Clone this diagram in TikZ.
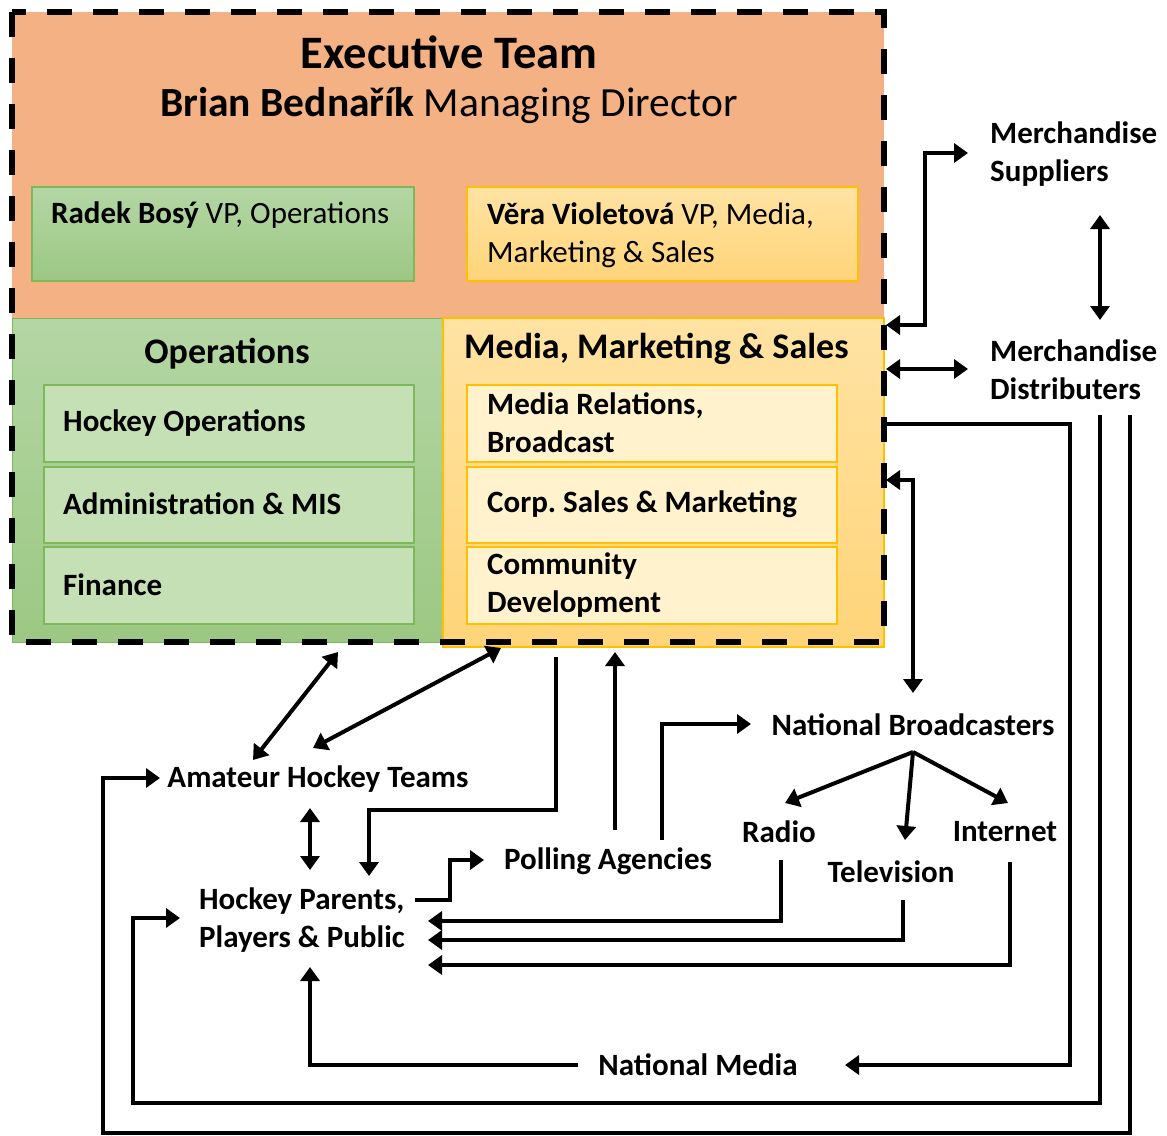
\documentclass[tikz,border=0pt]{standalone}
\usepackage{fontspec}
\setmainfont{Carlito}
\usetikzlibrary{arrows.meta}
\definecolor{orangeF}{HTML}{F4B183}
\definecolor{grnT}{HTML}{B4D6A4}
\definecolor{grnB}{HTML}{9CC883}
\definecolor{grnSub}{HTML}{C5E0B4}
\definecolor{grnLine}{HTML}{7DB85A}
\definecolor{yelT}{HTML}{FFE3A3}
\definecolor{yelB}{HTML}{FFD479}
\definecolor{yelSub}{HTML}{FFF2CC}
\definecolor{yelLine}{HTML}{FFC000}
\newcommand\fExec{\fontsize{46.5}{52}\selectfont}
\newcommand\fDir{\fontsize{41.5}{46}\selectfont}
\newcommand\fHead{\fontsize{36}{40}\selectfont}
\newcommand\fTxt{\fontsize{31}{38}\selectfont}
\frenchspacing
\begin{document}
\begin{tikzpicture}[x=1pt,y=1pt,
  arr/.style={line width=4pt,-{Triangle[length=14pt,width=19pt]}},
  dbl/.style={line width=4pt,{Triangle[length=14pt,width=19pt]}-{Triangle[length=14pt,width=19pt]}},
  lbl/.style={font=\fTxt\bfseries,inner sep=0pt,align=left},
  subtxt/.style={font=\fTxt,inner sep=0pt,align=left,anchor=west}]
\useasboundingbox (0,0) rectangle (1167,-1135);
% executive area
\fill[orangeF] (12,-12) rectangle (884,-318);
\shade[top color=grnT,bottom color=grnB,draw=grnLine,line width=1pt] (12,-318) rectangle (443,-642);
\shade[top color=yelT,bottom color=yelB,draw=yelLine,line width=1.2pt] (443,-318) rectangle (884,-647);
\shade[top color=grnT,bottom color=grnB,draw=grnLine,line width=1.2pt] (32,-187) rectangle (414,-281);
\shade[top color=yelT,bottom color=yelB,draw=yelLine,line width=1.2pt] (467,-187) rectangle (858,-281);
\foreach \a/\b in {385/462,467/543,547/624}{
  \filldraw[fill=grnSub,draw=grnLine,line width=1.2pt] (44,-\a) rectangle (414,-\b);
  \filldraw[fill=yelSub,draw=yelLine,line width=1.2pt] (467,-\a) rectangle (837,-\b);
}
\draw[line width=6pt,dash pattern=on 25pt off 21pt] (12,-12) rectangle (884,-642);
% texts in executive area
\node[font=\fExec\bfseries,inner sep=0pt] (exec) at (449,-52) {Executive Team};
\node[font=\fDir,inner sep=0pt] (dir) at (449,-106) {\textbf{Brian Bednařík} Managing Director};
\node[subtxt,anchor=base west] (radek) at (51,-223) {\textbf{Radek Bosý} VP, Operations};
\node[subtxt,anchor=base west] (vera) at (487,-262) {\textbf{Věra Violetová} VP, Media,\\Marketing \& Sales};
\node[font=\fHead\bfseries,inner sep=0pt] (ops) at (227,-354) {Operations};
\node[font=\fHead\bfseries,inner sep=0pt,anchor=west] (mms) at (464,-349) {Media, Marketing \& Sales};
\node[lbl,anchor=west] (hops) at (63,-423) {Hockey Operations};
\node[lbl,anchor=west] (adm) at (63,-504) {Administration \& MIS};
\node[lbl,anchor=west] (fin) at (63,-585) {Finance};
\node[lbl,anchor=west] (mrb) at (487,-423) {Media Relations,\\Broadcast};
\node[lbl,anchor=west] (csm) at (487,-504) {Corp.\ Sales \& Marketing};
\node[lbl,anchor=west] (cdv) at (487,-585) {Community\\Development};
% outside nodes
\node[lbl,anchor=west] (msup) at (990,-154) {Merchandise\\Suppliers};
\node[lbl,anchor=west] (mdis) at (990,-370) {Merchandise\\Distributers};
\node[lbl] (nb) at (913,-725) {National Broadcasters};
\node[lbl] (radio) at (779,-832) {Radio};
\node[lbl] (inet) at (1005,-832) {Internet};
\node[lbl] (tv) at (891,-872) {Television};
\node[lbl] (poll) at (608,-861) {Polling Agencies};
\node[lbl] (aht) at (318,-779) {Amateur Hockey Teams};
\node[lbl] (hpp) at (302,-920) {Hockey Parents,\\Players \& Public};
\node[lbl] (nm) at (698,-1065) {National Media};
% attach coordinates
\coordinate (eR1) at (886,-325);
\coordinate (eR2) at (886,-369);
\coordinate (eR3) at (884,-424);
\coordinate (eR4) at (886,-480);
\coordinate (supIn) at (968,-153);
\coordinate (disIn) at (968,-369);
\coordinate (supDn) at (1100,-215);
\coordinate (disUp) at (1100,-320);
\coordinate (disO1) at (1100,-415);
\coordinate (disO2) at (1130,-415);
\coordinate (nbIn) at (913,-693);
\coordinate (nbOut) at (913,-752);
\coordinate (radIn) at (785,-803);
\coordinate (tvIn) at (905,-840);
\coordinate (intIn) at (1008,-803);
\coordinate (radOut) at (781,-860);
\coordinate (tvOut) at (903,-900);
\coordinate (intOut) at (1010,-862);
\coordinate (hppR1) at (428,-921);
\coordinate (hppR2) at (428,-940);
\coordinate (hppR3) at (428,-965);
\coordinate (hppOut) at (415,-900);
\coordinate (pollIn) at (484,-860);
\coordinate (pollUp) at (615,-830);
\coordinate (mmsIn) at (615,-652);
\coordinate (pollR) at (662,-840);
\coordinate (nbL) at (751,-724);
\coordinate (mmsOut) at (556,-657);
\coordinate (hppTop) at (369,-876);
\coordinate (opsB) at (338,-652);
\coordinate (ahtA) at (253,-760);
\coordinate (mmsB) at (501,-648);
\coordinate (ahtB) at (313,-748);
\coordinate (ahtD) at (310,-808);
\coordinate (hppU) at (310,-870);
\coordinate (nmL) at (578,-1065);
\coordinate (hppB) at (310,-967);
\coordinate (nmR) at (845,-1065);
\coordinate (ahtL) at (160,-778);
\coordinate (hppL) at (180,-918);
% connectors
\draw[dbl] (supIn) -- (925,-153) |- (eR1);
\draw[dbl] (eR2) -- (disIn);
\draw[dbl] (supDn) -- (disUp);
\draw[arr] (eR3) -| (1070,-1065) -- (nmR);
\draw[arr] (disO1) |- (133,-1103) |- (hppL);
\draw[arr] (disO2) |- (103,-1133) |- (ahtL);
\draw[dbl] (eR4) -| (nbIn);
\draw[arr] (nbOut) -- (radIn);
\draw[arr] (nbOut) -- (tvIn);
\draw[arr] (nbOut) -- (intIn);
\draw[arr] (radOut) |- (hppR1);
\draw[arr] (tvOut) |- (hppR2);
\draw[arr] (intOut) |- (hppR3);
\draw[arr] (hppOut) -| (450,-860) -- (pollIn);
\draw[arr] (pollUp) -- (mmsIn);
\draw[arr] (pollR) |- (nbL);
\draw[arr] (mmsOut) |- (369,-810) -- (hppTop);
\draw[dbl] (opsB) -- (ahtA);
\draw[dbl] (mmsB) -- (ahtB);
\draw[dbl] (ahtD) -- (hppU);
\draw[arr] (nmL) -| (hppB);
\end{tikzpicture}
\end{document}
